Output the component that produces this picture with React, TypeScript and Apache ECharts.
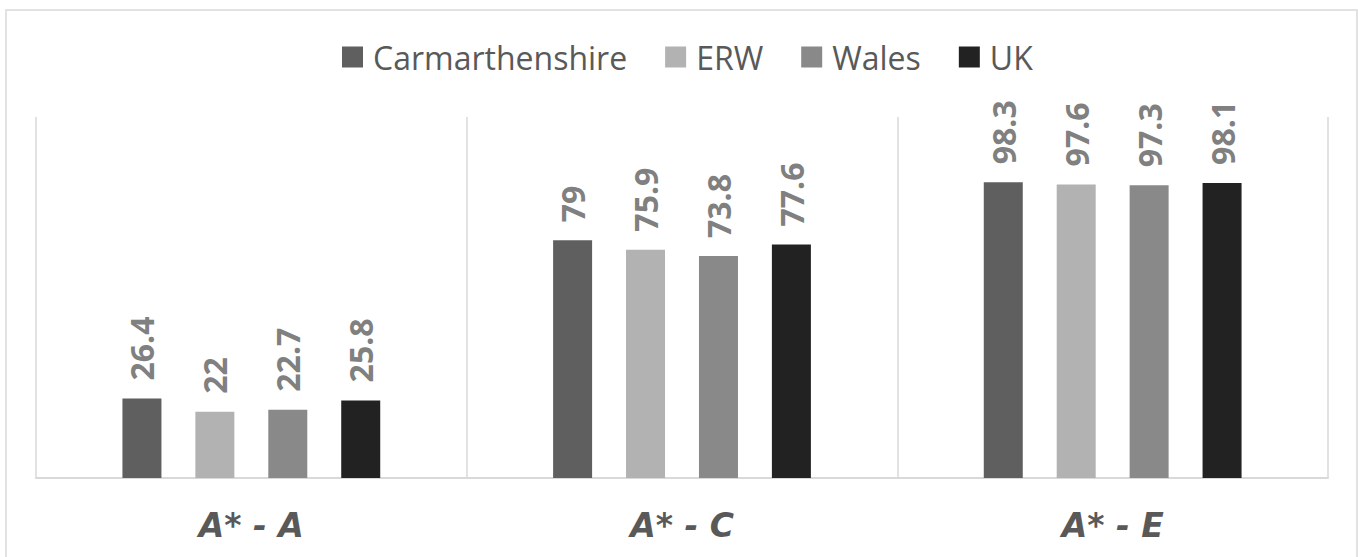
import React, { useEffect, useRef } from "react";
import * as echarts from "echarts";

const categories = ["A* - A", "A* - C", "A* - E"];
const seriesNames = ["Carmarthenshire", "ERW", "Wales", "UK"];
const carmarthenshire = [26.4, 79, 98.3];
const erw = [22, 75.9, 97.6];
const wales = [22.7, 73.8, 97.3];
const uk = [25.8, 77.6, 98.1];
const colors = ["#5f5f5f", "#b2b2b2", "#898989", "#222222"];

export default function App() {
  const ref = useRef<HTMLDivElement>(null);
  useEffect(() => {
    const chart = echarts.init(ref.current!, null, { renderer: "svg" });
    const values = [carmarthenshire, erw, wales, uk];
    chart.setOption({
      animation: false,
      backgroundColor: "#ffffff",
      textStyle: { fontFamily: "Open Sans" },
      legend: {
        top: 41,
        left: 342,
        padding: 0,
        itemWidth: 21,
        itemHeight: 21,
        itemGap: 38,
        icon: "rect",
        textStyle: { fontSize: 32, color: "#595959", fontFamily: "Open Sans", padding: [0, 0, 0, 5] },
        data: seriesNames,
      },
      grid: { left: 36, right: 30, top: 117, bottom: 79, containLabel: false },
      xAxis: {
        type: "category",
        data: categories,
        axisLine: { show: true, lineStyle: { color: "#d9d9d9", width: 2 } },
        axisTick: { show: false },
        splitLine: { show: true, interval: 0, lineStyle: { color: "#d9d9d9", width: 1.5 } },
        axisLabel: {
          margin: 31,
          fontSize: 33,
          fontWeight: "bold",
          fontStyle: "italic",
          color: "#595959",
          fontFamily: "DejaVu Sans",
        },
      },
      yAxis: { type: "value", min: 0, max: 120, show: false, splitLine: { show: false } },
      graphic: [
        {
          type: "rect",
          shape: { x: 6, y: 10, width: 1351, height: 600 },
          style: { fill: "none", stroke: "#d9d9d9", lineWidth: 1.5 },
          silent: true,
        },
      ],
      series: seriesNames.map((name, i) => ({
        name,
        type: "bar",
        data: values[i],
        barWidth: 39,
        barGap: "87%",
        itemStyle: { color: colors[i] },
        label: {
          show: true,
          position: "top",
          rotate: 90,
          align: "left",
          verticalAlign: "middle",
          distance: 18,
          fontSize: 32,
          fontWeight: "bold",
          color: "#808080",
          fontFamily: "Open Sans",
        },
      })),
    });
    return () => chart.dispose();
  }, []);
  return (
    <div
      ref={ref}
      style={{ position: "fixed", left: 0, top: 0, width: 1358, height: 557 }}
    />
  );
}
